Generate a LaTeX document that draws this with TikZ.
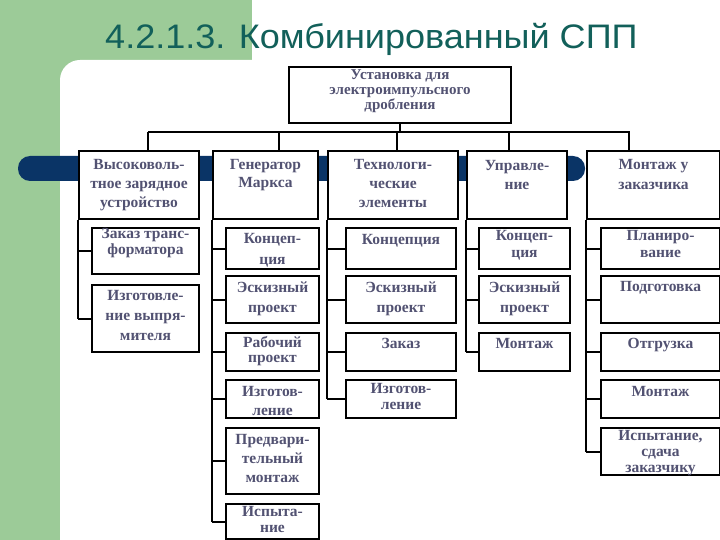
\documentclass[tikz,border=0pt]{standalone}
\usepackage{fontspec}
\setmainfont{Liberation Serif}
\newfontfamily\titlefont{Liberation Sans}
\usetikzlibrary{positioning}

\definecolor{greenbg}{RGB}{156,203,152}
\definecolor{navy}{RGB}{10,52,102}
\definecolor{teal}{RGB}{18,96,90}
\definecolor{ink}{RGB}{82,82,114}

\tikzset{
    box/.style={draw, line width=2pt, fill=white, anchor=north west, inner sep=0pt},
    lbl/.style={inner sep=0pt, align=center, text=ink, font=\bfseries\fontsize{15.5}{#1}\selectfont},
    lbl/.default=19,
    wire/.style={line width=2pt},
}

\begin{document}
\begin{tikzpicture}[x=1pt, y=-1pt]
    \useasboundingbox (0,0) rectangle (720,540);

    % background
    \fill[white] (0,0) rectangle (720,540);
    \fill[greenbg] (0,0) rectangle (252,80);
    \fill[greenbg] (0,0) rectangle (60,540);
    \fill[white, rounded corners=20pt] (60,580) -- (60,60) -- (760,60) -- (760,580) -- cycle;
    \fill[navy, rounded corners=12pt] (18,156) rectangle (585,181);

    \node[anchor=base west, inner sep=0pt, text=teal, xscale=1.06, transform shape,
          font=\titlefont\fontsize{34}{40}\selectfont] (title) at (105,49) {4.2.1.3. Комбинированный СПП};

    % top of the tree
    \node[box, minimum width=222pt, minimum height=56pt] (plant) at (288,66) {};
    \node[lbl=15, font=\bfseries\fontsize{15}{15}\selectfont, below=3pt of plant.north] (plant-t) {Установка для\\электроимпульсного\\дробления};
    \coordinate (busL) at (148,132);
    \coordinate (busR) at (630,132);
    \draw[wire] (plant.south) -- (plant.south |- busL);
    \draw[wire] (busL) -- (busR);

    % first level
    \foreach \n/\x/\w/\d/\p/\s/\t in {hv/78/120pt/148/9.5pt/19/{Высоковоль-\\тное зарядное\\устройство},
            marx/212/105pt/279/9.5pt/18/{Генератор\\Маркса},
            tech/327/130pt/397/9.5pt/19/{Технологи-\\ческие\\элементы},
            ctrl/466/100pt/509/10pt/19/{Управле-\\ние},
            site/586/133pt/629/9.5pt/20/{Монтаж у\\заказчика}} {
        \node[box, minimum width=\w, minimum height=68pt] (\n) at (\x,150) {};
        \node[lbl=\s, below=\p of \n.north] (\n-t) {\t};
        \draw[wire] (\d,132) -- (\n.north -| \d,0);
    }

    % high-voltage charger
    \foreach \n/\y/\h/\p/\s/\t in {a1/227/46pt/1.5pt/13/{Заказ транс-\\форматора},
            a2/284/67pt/6.5pt/20/{Изготовле-\\ние выпря-\\мителя}} {
        \node[box, minimum width=107pt, minimum height=\h] (\n) at (91,\y) {};
        \node[lbl=\s, below=\p of \n.north] (\n-t) {\t};
        \draw[wire] (hv.south west |- \n.west) -- (\n.west);
    }
    \draw[wire] (hv.south west) -- (hv.south west |- a2.west);

    % Marx generator
    \foreach \n/\y/\h/\p/\s/\t in {b1/227/41pt/6.5pt/21/{Концеп-\\ция},
            b2/275/47pt/6.5pt/20/{Эскизный\\проект},
            b3/332/38pt/4.5pt/15/{Рабочий\\проект},
            b4/379/38pt/7.5pt/19/{Изготов-\\ление},
            b5/427/66pt/7.5pt/19/{Предвари-\\тельный\\монтаж},
            b6/503/35pt/3.5pt/16/{Испыта-\\ние}} {
        \node[box, minimum width=93pt, minimum height=\h] (\n) at (225,\y) {};
        \node[lbl=\s, below=\p of \n.north] (\n-t) {\t};
        \draw[wire] (marx.south west |- \n.west) -- (\n.west);
    }
    \draw[wire] (marx.south west) -- (marx.south west |- b6.west);

    % technological elements
    \foreach \n/\y/\h/\p/\s/\t in {c1/227/41pt/7.5pt/19/{Концепция},
            c2/275/47pt/6.5pt/20/{Эскизный\\проект},
            c3/332/38pt/6.5pt/19/{Заказ},
            c4/379/38pt/4.5pt/16/{Изготов-\\ление}} {
        \node[box, minimum width=110pt, minimum height=\h] (\n) at (345,\y) {};
        \node[lbl=\s, below=\p of \n.north] (\n-t) {\t};
        \draw[wire] (tech.south west |- \n.west) -- (\n.west);
    }
    \draw[wire] (tech.south west) -- (tech.south west |- c4.west);

    % control
    \foreach \n/\y/\h/\p/\s/\t in {d1/227/41pt/3.5pt/17/{Концеп-\\ция},
            d2/275/47pt/6.5pt/20/{Эскизный\\проект},
            d3/332/38pt/6.5pt/19/{Монтаж}} {
        \node[box, minimum width=91pt, minimum height=\h] (\n) at (478,\y) {};
        \node[lbl=\s, below=\p of \n.north] (\n-t) {\t};
        \draw[wire] (ctrl.south west |- \n.west) -- (\n.west);
    }
    \draw[wire] (ctrl.south west) -- (ctrl.south west |- d3.west);

    % site assembly
    \foreach \n/\y/\h/\p/\s/\t in {e1/227/41pt/3.5pt/17/{Планиро-\\вание},
            e2/275/47pt/6.5pt/19/{Подготовка},
            e3/332/38pt/6.5pt/19/{Отгрузка},
            e4/379/38pt/7.5pt/19/{Монтаж},
            e5/427/47pt/3.5pt/16/{Испытание,\\сдача\\заказчику}} {
        \node[box, minimum width=119pt, minimum height=\h] (\n) at (600,\y) {};
        \node[lbl=\s, below=\p of \n.north] (\n-t) {\t};
        \draw[wire] (site.south west |- \n.west) -- (\n.west);
    }
    \draw[wire] (site.south west) -- (site.south west |- e5.west);
\end{tikzpicture}
\end{document}
